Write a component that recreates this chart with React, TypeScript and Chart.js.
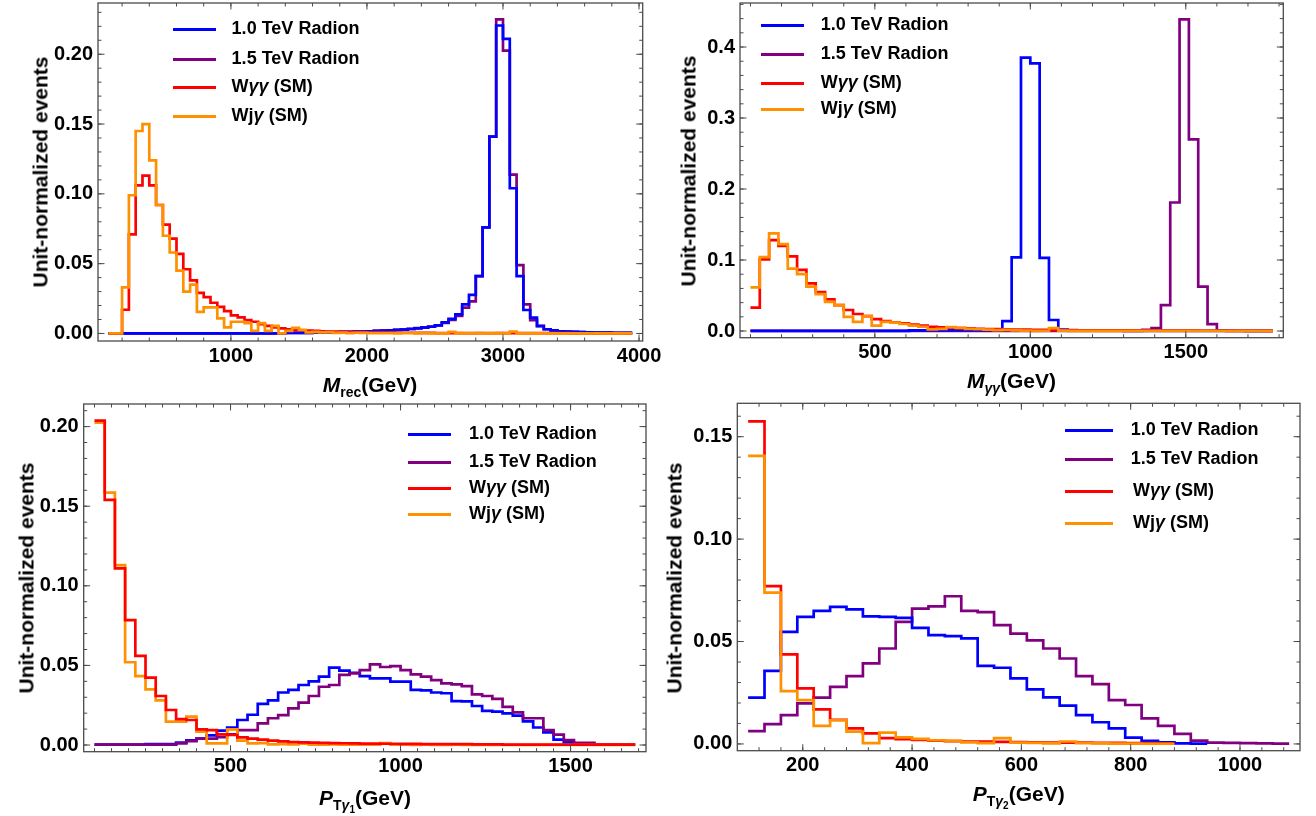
import React, { useEffect, useRef } from 'react';
import { Chart, registerables } from 'chart.js';

Chart.register(...registerables);

const PAGE_W = 1316;
const PAGE_H = 816;
const FONT = '"Liberation Sans", Arial, Helvetica, sans-serif';

const seriesLabels = ['1.0 TeV Radion', '1.5 TeV Radion', 'Wγγ (SM)', 'Wjγ (SM)'];
const seriesColors = ['#0000ff', '#800080', '#ff0000', '#ff9000'];

// ---------- Panel 1: M_rec (bins of 50 GeV from 100) ----------
const mrecBinStart = 100;
const mrecBinWidth = 50;
const mrecRadion10 = [
  0, 0, 0, 0, 0, 0, 0, 0, 0, 0, 0, 0, 0, 0, 0, 0, 0, 0, 0, 0, 0, 0, 0, 0, 0, 0,
  0.0004, 0.0004, 0.0004, 0.0004, 0.0007, 0.0008, 0.0009, 0.001, 0.0011, 0.0012, 0.0013, 0.0014,
  0.0016, 0.0018, 0.002, 0.0022, 0.0025, 0.0028, 0.0032, 0.0036, 0.0042, 0.0048,
  0.0058, 0.008, 0.0105, 0.0137, 0.0209, 0.0276, 0.041, 0.076, 0.141, 0.2206, 0.211, 0.104,
  0.041, 0.0168, 0.0113, 0.0053, 0.003, 0.0022, 0.0016, 0.0013, 0.0011, 0.0009, 0.0008, 0.0007,
  0.0006, 0.0006, 0.0005, 0.0005, 0.0004,
];
const mrecRadion15 = [
  0, 0, 0, 0, 0, 0, 0, 0, 0, 0, 0, 0, 0, 0, 0, 0, 0, 0, 0, 0, 0, 0, 0, 0, 0, 0,
  0.0004, 0.0004, 0.0004, 0.0004, 0.0007, 0.0008, 0.0009, 0.001, 0.0011, 0.0012, 0.0013, 0.0014,
  0.0016, 0.0018, 0.002, 0.0022, 0.0025, 0.0029, 0.0033, 0.0038, 0.0044, 0.005,
  0.0058, 0.0075, 0.0098, 0.0125, 0.0185, 0.023, 0.041, 0.076, 0.141, 0.225, 0.2026, 0.1137,
  0.049, 0.0209, 0.0096, 0.0055, 0.003, 0.0022, 0.0016, 0.0013, 0.0011, 0.0009, 0.0008, 0.0007,
  0.0006, 0.0006, 0.0005, 0.0005, 0.0004,
];
const mrecWaa = [
  0, 0, 0.017, 0.071, 0.106, 0.113, 0.106, 0.092, 0.078, 0.068, 0.057, 0.046, 0.038, 0.029,
  0.026, 0.022, 0.019, 0.016, 0.013, 0.0115, 0.0096, 0.0084, 0.0067, 0.0055, 0.0043, 0.0036,
  0.003, 0.0026, 0.0023, 0.002, 0.0018, 0.0016, 0.0014, 0.0012, 0.0011, 0.001, 0.0009, 0.0008,
  0.0007, 0.0007, 0.0006, 0.0006, 0.0005, 0.0005, 0.0005, 0.0004, 0.0004, 0.0004,
  0.0003, 0.0003, 0.0003, 0.0003, 0.0003, 0.0003, 0.0003, 0.0003, 0.0003, 0.0003,
  0.0002, 0.0002, 0.0002, 0.0002, 0.0002, 0.0002, 0.0002, 0.0002, 0.0002, 0.0002,
  0.0001, 0.0001, 0.0001, 0.0001, 0.0001, 0.0001, 0.0001, 0.0001, 0.0001,
];
const mrecWja = [
  0, 0, 0.033, 0.099, 0.145, 0.15, 0.124, 0.092, 0.07, 0.058, 0.045, 0.03, 0.035, 0.0155,
  0.0187, 0.0187, 0.0108, 0.0043, 0.0084, 0.0084, 0.0074, 0.0019, 0.0074, 0.0019, 0.0055, 0,
  0.0019, 0.004, 0.0025, 0.0008, 0.0012, 0.0008, 0.001, 0.0004, 0.0006, 0.0003, 0.0005, 0.0004,
  0.0002, 0.0003, 0.0002, 0.0003, 0.0001, 0.0002, 0.0002, 0.0001, 0.0002, 0.0001, 0.0001, 0.0001,
  0.0012, 0.0002, 0.0001, 0.0001, 0.0002, 0.0001, 0.0001, 0.0002, 0.0001, 0.0013,
  0.0001, 0.0001, 0.0001, 0.0001, 0.0001, 0.0001, 0.0001, 0.0001, 0.0001, 0.0001,
  0.0001, 0.0001, 0.0001, 0.0001, 0.0001, 0.0001, 0.0001,
];
const mrecXTicks = [1000, 2000, 3000, 4000];
const mrecYTicks = [0, 0.05, 0.1, 0.15, 0.2];

// ---------- Panel 2: M_gammagamma (bins of 30 GeV from 100) ----------
const mggBinStart = 100;
const mggBinWidth = 30;
const mggRadion10 = [
  0.0002, 0.0002, 0.0002, 0.0002, 0.0002, 0.0002, 0.0002, 0.0002, 0.0002, 0.0002, 0.0002, 0.0002,
  0.0002, 0.0002, 0.0002, 0.0002, 0.0002,
  0.0008, 0.001, 0.0012, 0.001, 0.0012, 0.0014, 0.0012, 0.0013, 0.0015, 0.0015,
  0.014, 0.1036, 0.385, 0.377, 0.103, 0.0155, 0.002, 0.001,
  0.0006, 0.0005, 0.0005, 0.0004, 0.0004, 0.0003, 0.0003, 0.0003,
  0.0002, 0.0002, 0.0002, 0.0002, 0.0002, 0.0002, 0.0002, 0.0002, 0.0002, 0.0002, 0.0002, 0.0002, 0.0002,
];
const mggRadion15 = [
  0.0002, 0.0002, 0.0002, 0.0002, 0.0002, 0.0002, 0.0002, 0.0002, 0.0002, 0.0002,
  0.0002, 0.0002, 0.0002, 0.0002, 0.0002, 0.0002, 0.0002, 0.0002, 0.0002, 0.0002,
  0.0002, 0.0002, 0.0002, 0.0002, 0.0002, 0.0002, 0.0002, 0.0002, 0.0002, 0.0002,
  0.0003, 0.0003, 0.0003, 0.0003, 0.0003, 0.0003, 0.0003, 0.0003, 0.0003, 0.0003, 0.0003, 0.0003,
  0.0015, 0.004, 0.0366, 0.181, 0.439, 0.27, 0.0624, 0.0098, 0.001, 0.0006, 0.0004, 0.0003, 0.0002, 0.0002,
];
const mggWaa = [
  0.033, 0.101, 0.128, 0.12, 0.105, 0.086, 0.067, 0.055, 0.0446, 0.0366, 0.0296, 0.024, 0.021,
  0.0169, 0.014, 0.0122, 0.0108, 0.0089, 0.0075, 0.006, 0.0052, 0.0046, 0.004, 0.0036, 0.0032,
  0.0028, 0.0026, 0.0023, 0.0021, 0.0019, 0.0017, 0.0016, 0.0014, 0.0013, 0.0012, 0.0011, 0.001,
  0.0009, 0.0009, 0.0008, 0.0008, 0.0007, 0.0007, 0.0006, 0.0006, 0.0005, 0.0005, 0.0005, 0.0004,
  0.0004, 0.0004, 0.0003, 0.0003, 0.0003, 0.0003, 0.0002,
];
const mggWja = [
  0.0615, 0.104, 0.1375, 0.1225, 0.088, 0.08, 0.0624, 0.052, 0.041, 0.0366, 0.02, 0.013, 0.021,
  0.0075, 0.013, 0.0117, 0.0099, 0.0075, 0.006, 0.0023, 0.003, 0.0055, 0.0045, 0.003, 0.0025,
  0.002, 0.0012, 0.0015, 0.0008, 0.0005, 0.0002, 0.0004, 0.004, 0.0005,
  0.0003, 0.0002, 0.0003, 0.0002, 0.0002, 0.0003, 0.0002, 0.0002, 0.0002, 0.0002, 0.0002,
  0.0002, 0.0002, 0.0002, 0.0002, 0.0002, 0.0002, 0.0002, 0.0002, 0.0002, 0.0002, 0.0002,
];
const mggXTicks = [500, 1000, 1500];
const mggYTicks = [0, 0.1, 0.2, 0.3, 0.4];

// ---------- Panel 3: P_T gamma1 (bins of 30 GeV from 100) ----------
const pt1BinStart = 100;
const pt1BinWidth = 30;
const pt1Radion10 = [
  0.0002, 0.0002, 0.0002, 0.0002, 0.0002, 0.0005, 0.0005, 0.0005,
  0.0015, 0.003, 0.004, 0.006, 0.009, 0.011, 0.0157, 0.019, 0.0258, 0.028,
  0.033, 0.0346, 0.0377, 0.04, 0.043, 0.0486, 0.0467, 0.0454, 0.0433, 0.0419,
  0.0419, 0.0398, 0.0398, 0.0346, 0.0343, 0.033, 0.0325, 0.0276, 0.0274, 0.0245,
  0.0214, 0.021, 0.0199, 0.0184, 0.0149, 0.011, 0.008, 0.0034, 0.0017, 0.001,
  0.0007, 0.0004, 0.0003, 0.0002, 0.0002,
];
const pt1Radion15 = [
  0.0002, 0.0002, 0.0002, 0.0002, 0.0002, 0.0002, 0.0002, 0.0002,
  0.001, 0.0025, 0.004, 0.004, 0.005, 0.0067, 0.0094, 0.0094, 0.0136, 0.0168,
  0.0188, 0.023, 0.0266, 0.0308, 0.0366, 0.0377, 0.044, 0.045, 0.047, 0.0507,
  0.049, 0.0496, 0.047, 0.0444, 0.043, 0.0408, 0.0387, 0.0381, 0.037, 0.0318,
  0.0308, 0.029, 0.024, 0.0205, 0.0168, 0.0168, 0.0094, 0.0065, 0.0031, 0.0013,
  0.0013, 0.0004, 0.0003, 0.0002, 0.0002,
];
const pt1Waa = [
  0.2038, 0.154, 0.111, 0.0785, 0.056, 0.0423, 0.0308, 0.022, 0.0163, 0.0157,
  0.0098, 0.0094, 0.0067, 0.0063, 0.0048, 0.004, 0.0034, 0.0027, 0.0023, 0.0019,
  0.0017, 0.0015, 0.0014, 0.0012, 0.0011, 0.001, 0.0009, 0.0009, 0.0008, 0.0008,
  0.0007, 0.0007, 0.0006, 0.0006, 0.0005, 0.0005, 0.0005, 0.0004, 0.0004, 0.0004,
  0.0003, 0.0003, 0.0003, 0.0003, 0.0003, 0.0002, 0.0002, 0.0002, 0.0002, 0.0002,
  0.0002, 0.0002, 0.0002,
];
const pt1Wja = [
  0.2025, 0.1585, 0.113, 0.052, 0.0433, 0.035, 0.028, 0.0147, 0.0147, 0.0178,
  0.0084, 0.001, 0.001, 0.0098, 0.0027, 0.001, 0.0012, 0.0004, 0.0006, 0.0004,
  0.0008, 0.0003, 0.0003, 0.0004, 0.0002, 0.0003, 0.0002, 0.0002, 0.0012, 0.0002,
  0.0002, 0.0001, 0.0002, 0.0001, 0.0001, 0.0002, 0.0001, 0.0001, 0.0001, 0.0001,
  0.0001, 0.0001, 0.0001, 0.0001, 0.0001, 0.0001, 0.0001, 0.0001, 0.0001, 0.0001,
  0.0001, 0.0001, 0.0001,
];
const pt1XTicks = [500, 1000, 1500];
const pt1YTicks = [0, 0.05, 0.1, 0.15, 0.2];

// ---------- Panel 4: P_T gamma2 (bins of 30 GeV from 100) ----------
const pt2BinStart = 100;
const pt2BinWidth = 30;
const pt2Radion10 = [
  0.0226, 0.0357, 0.0547, 0.062, 0.065, 0.0669, 0.0657, 0.0623, 0.062, 0.0615,
  0.0567, 0.0531, 0.0526, 0.0515, 0.0381, 0.0372, 0.032, 0.0266, 0.0227, 0.0187,
  0.0141, 0.0106, 0.0076, 0.0031, 0.0015, 0.0008, 0.0003, 0.0002,
];
const pt2Radion15 = [
  0.0063, 0.0097, 0.0141, 0.0198, 0.0226, 0.0279, 0.0331, 0.0393, 0.0466, 0.0596,
  0.0661, 0.0672, 0.0721, 0.065, 0.0644, 0.058, 0.0539, 0.0506, 0.0466, 0.0417,
  0.0331, 0.0292, 0.0214, 0.019, 0.0125, 0.0088, 0.0049, 0.0016, 0.0006, 0.0005,
  0.0004, 0.0003, 0.0002,
];
const pt2Waa = [
  0.1575, 0.077, 0.0437, 0.0271, 0.0169, 0.0118, 0.0076, 0.0052, 0.0028, 0.0023,
  0.002, 0.0016, 0.0014, 0.0012, 0.0011, 0.001, 0.0009, 0.0008, 0.0007, 0.0006,
  0.0006, 0.0005, 0.0005, 0.0004, 0.0004, 0.0003,
];
const pt2Wja = [
  0.1406, 0.0739, 0.0258, 0.0214, 0.0088, 0.0115, 0.006, 0.0004, 0.0055, 0.0032,
  0.0025, 0.0018, 0.0015, 0.0008, 0.0004, 0.0028, 0.0006, 0.0005, 0.0003, 0.0012,
  0.0004, 0.0003, 0.0002, 0.0002, 0.0001, 0.0001,
];
const pt2XTicks = [200, 400, 600, 800, 1000];
const pt2YTicks = [0, 0.05, 0.1, 0.15];

function range(start: number, end: number, step: number) {
  const out: number[] = [];
  for (let v = start; v <= end + step * 1e-6; v += step) out.push(Math.round(v * 1e6) / 1e6);
  return out;
}

function histSteps(start: number, width: number, values: number[]) {
  const pts = values.map((v, i) => ({ x: start + i * width, y: v }));
  pts.push({ x: start + values.length * width, y: values[values.length - 1] });
  return pts;
}

type Panel = {
  frame: { left: number; right: number; top: number; bottom: number };
  xMin: number; xMax: number; yMin: number; yMax: number;
  binStart: number; binWidth: number;
  series: number[][];
  order: number[];
  xTicks: number[]; yTicks: number[]; xMinor: number[]; yMinor: number[];
  yDecimals: number;
  legend: { rows: number[]; lineX0: number; lineX1: number; textX: number[] };
  xTitle: React.ReactNode; xTitlePos: [number, number];
  yTitlePos: [number, number];
};

const panels: Panel[] = [
  {
    frame: { left: 98, right: 642.7, top: 3, bottom: 341 },
    xMin: 23, xMax: 4027, yMin: -0.0054, yMax: 0.2367,
    binStart: mrecBinStart, binWidth: mrecBinWidth,
    series: [mrecRadion10, mrecRadion15, mrecWaa, mrecWja],
    order: [2, 3, 1, 0],
    xTicks: mrecXTicks, yTicks: mrecYTicks,
    xMinor: range(200, 4000, 200), yMinor: range(0, 0.23, 0.01),
    yDecimals: 2,
    legend: { rows: [28.3, 57.7, 86, 115], lineX0: 172.6, lineX1: 215.8, textX: [231.6, 231.6, 231.6, 231.6] },
    xTitle: (<><i>M</i><span style={{ fontSize: 14, position: 'relative', top: 5 }}>rec</span>(GeV)</>),
    xTitlePos: [370, 385.5],
    yTitlePos: [40, 172],
  },
  {
    frame: { left: 740, right: 1283.3, top: 3, bottom: 337.7 },
    xMin: 66.4, xMax: 1813.6, yMin: -0.0094, yMax: 0.462,
    binStart: mggBinStart, binWidth: mggBinWidth,
    series: [mggRadion10, mggRadion15, mggWaa, mggWja],
    order: [2, 3, 1, 0],
    xTicks: mggXTicks, yTicks: mggYTicks,
    xMinor: range(100, 1800, 100), yMinor: range(0, 0.46, 0.02),
    yDecimals: 1,
    legend: { rows: [24.3, 53.3, 81.7, 108.3], lineX0: 761, lineX1: 804, textX: [820.7, 820.7, 820.7, 820.7] },
    xTitle: (<><i>M</i><span style={{ fontSize: 14, position: 'relative', top: 5 }}><i>γγ</i></span>(GeV)</>),
    xTitlePos: [1011.5, 382],
    yTitlePos: [688, 171],
  },
  {
    frame: { left: 83.7, right: 646, top: 404, bottom: 751.7 },
    xMin: 68.2, xMax: 1721.8, yMin: -0.0042, yMax: 0.2142,
    binStart: pt1BinStart, binWidth: pt1BinWidth,
    series: [pt1Radion10, pt1Radion15, pt1Waa, pt1Wja],
    order: [3, 2, 0, 1],
    xTicks: pt1XTicks, yTicks: pt1YTicks,
    xMinor: range(100, 1700, 50), yMinor: range(0, 0.21, 0.01),
    yDecimals: 2,
    legend: { rows: [433.3, 460.7, 487.3, 513.3], lineX0: 407.9, lineX1: 450.7, textX: [469, 469, 469, 469] },
    xTitle: (<><i>P</i><span style={{ fontSize: 14, position: 'relative', top: 5 }}>T<i>γ</i><span style={{ fontSize: 10, position: 'relative', top: 3 }}>1</span></span>(GeV)</>),
    xTitlePos: [365, 798.5],
    yTitlePos: [26, 578],
  },
  {
    frame: { left: 737.3, right: 1300, top: 403.3, bottom: 750.7 },
    xMin: 80.2, xMax: 1109.8, yMin: -0.0033, yMax: 0.1663,
    binStart: pt2BinStart, binWidth: pt2BinWidth,
    series: [pt2Radion10, pt2Radion15, pt2Waa, pt2Wja],
    order: [2, 3, 1, 0],
    xTicks: pt2XTicks, yTicks: pt2YTicks,
    xMinor: range(120, 1080, 40), yMinor: range(0, 0.16, 0.01),
    yDecimals: 2,
    legend: { rows: [429.3, 458.3, 490, 521.7], lineX0: 1065, lineX1: 1112.7, textX: [1130.7, 1130.7, 1133, 1133] },
    xTitle: (<><i>P</i><span style={{ fontSize: 14, position: 'relative', top: 5 }}>T<i>γ</i><span style={{ fontSize: 10, position: 'relative', top: 3 }}>2</span></span>(GeV)</>),
    xTitlePos: [1018.7, 795],
    yTitlePos: [674, 578],
  },
];

const Y_AXIS_W = 80;
const X_AXIS_H = 40;
const FRAME_COLOR = '#4a4a4a';

function makeFramePlugin(p: Panel) {
  return {
    id: 'mmaFrame',
    afterDraw(chart: any) {
      const { ctx, chartArea: a } = chart;
      const xs = chart.scales.x;
      const ys = chart.scales.y;
      ctx.save();
      ctx.strokeStyle = FRAME_COLOR;
      ctx.lineWidth = 1.3;
      ctx.strokeRect(a.left, a.top, a.right - a.left, a.bottom - a.top);
      ctx.lineWidth = 1;
      ctx.beginPath();
      const tickX = (v: number, len: number) => {
        const px = xs.getPixelForValue(v);
        if (px < a.left + 1 || px > a.right - 1) return;
        ctx.moveTo(px, a.bottom);
        ctx.lineTo(px, a.bottom - len);
        ctx.moveTo(px, a.top);
        ctx.lineTo(px, a.top + len);
      };
      const tickY = (v: number, len: number) => {
        const py = ys.getPixelForValue(v);
        if (py < a.top + 1 || py > a.bottom - 1) return;
        ctx.moveTo(a.left, py);
        ctx.lineTo(a.left + len, py);
        ctx.moveTo(a.right, py);
        ctx.lineTo(a.right - len, py);
      };
      p.xMinor.forEach((v) => tickX(v, 3.5));
      p.xTicks.forEach((v) => tickX(v, 6.5));
      p.yMinor.forEach((v) => tickY(v, 3.5));
      p.yTicks.forEach((v) => tickY(v, 6.5));
      ctx.stroke();
      ctx.restore();
    },
  };
}

function makeChart(canvas: HTMLCanvasElement, p: Panel) {
  const tickFont = { family: FONT, size: 20, weight: 'bold' as const };
  return new Chart(canvas, {
    type: 'line',
    data: {
      datasets: p.series.map((s, i) => ({
        label: seriesLabels[i],
        data: histSteps(p.binStart, p.binWidth, s),
        borderColor: seriesColors[i],
        backgroundColor: seriesColors[i],
        borderWidth: 2.7,
        pointRadius: 0,
        pointHoverRadius: 0,
        stepped: 'before' as const,
        fill: false,
        tension: 0,
        order: p.order[i],
        borderJoinStyle: 'miter' as const,
        borderCapStyle: 'butt' as const,
      })),
    },
    options: {
      animation: false,
      responsive: false,
      maintainAspectRatio: false,
      events: [],
      layout: {
        padding: {
          left: p.frame.left - Y_AXIS_W,
          right: PAGE_W - p.frame.right,
          top: p.frame.top,
          bottom: PAGE_H - p.frame.bottom - X_AXIS_H,
        },
      },
      plugins: { legend: { display: false }, tooltip: { enabled: false } },
      scales: {
        x: {
          type: 'linear',
          min: p.xMin,
          max: p.xMax,
          grid: { display: false, drawTicks: false },
          border: { display: false },
          ticks: {
            autoSkip: false,
            maxRotation: 0,
            padding: 3,
            color: '#000',
            font: tickFont,
            callback: (v: any) => String(v),
          },
          afterBuildTicks: (ax: any) => {
            ax.ticks = p.xTicks.map((v) => ({ value: v }));
          },
          afterFit: (ax: any) => {
            ax.height = X_AXIS_H;
            ax.paddingLeft = 0;
            ax.paddingRight = 0;
          },
        },
        y: {
          type: 'linear',
          min: p.yMin,
          max: p.yMax,
          grid: { display: false, drawTicks: false },
          border: { display: false },
          ticks: {
            autoSkip: false,
            padding: 5,
            color: '#000',
            font: tickFont,
            callback: (v: any) => Number(v).toFixed(p.yDecimals),
          },
          afterBuildTicks: (ax: any) => {
            ax.ticks = p.yTicks.map((v) => ({ value: v }));
          },
          afterFit: (ax: any) => {
            ax.width = Y_AXIS_W;
            ax.paddingTop = 0;
            ax.paddingBottom = 0;
          },
        },
      },
    } as any,
    plugins: [makeFramePlugin(p)],
  });
}

function renderLabel(label: string) {
  return label.split('').map((ch, i) => (ch === 'γ' ? <i key={i}>γ</i> : <React.Fragment key={i}>{ch}</React.Fragment>));
}

function LegendBlock({ p }: { p: Panel }) {
  const lg = p.legend;
  return (
    <>
      {seriesLabels.map((label, i) => (
        <React.Fragment key={i}>
          <div
            style={{
              position: 'absolute',
              left: lg.lineX0,
              top: lg.rows[i] + 1.5 - 1.5,
              width: lg.lineX1 - lg.lineX0,
              height: 3,
              background: seriesColors[i],
            }}
          />
          <div
            style={{
              position: 'absolute',
              left: lg.textX[i],
              top: lg.rows[i] - 9,
              fontSize: 18,
              lineHeight: '18px',
              fontWeight: 700,
              fontFamily: FONT,
              whiteSpace: 'nowrap',
              color: '#000',
            }}
          >
            {renderLabel(label)}
          </div>
        </React.Fragment>
      ))}
    </>
  );
}

export default function App() {
  const refs = [useRef<HTMLCanvasElement>(null), useRef<HTMLCanvasElement>(null), useRef<HTMLCanvasElement>(null), useRef<HTMLCanvasElement>(null)];

  useEffect(() => {
    const charts = panels.map((p, i) => makeChart(refs[i].current as HTMLCanvasElement, p));
    return () => charts.forEach((c) => c.destroy());
  }, []);

  return (
    <div
      style={{
        position: 'absolute',
        left: 0,
        top: 0,
        width: PAGE_W,
        height: PAGE_H,
        background: '#fff',
        overflow: 'hidden',
        fontFamily: FONT,
      }}
    >
      {panels.map((p, i) => (
        <canvas
          key={'c' + i}
          ref={refs[i]}
          width={PAGE_W}
          height={PAGE_H}
          style={{ position: 'absolute', left: 0, top: 0, width: PAGE_W, height: PAGE_H }}
        />
      ))}
      {panels.map((p, i) => (
        <React.Fragment key={'o' + i}>
          <LegendBlock p={p} />
          <div
            style={{
              position: 'absolute',
              left: p.xTitlePos[0],
              top: p.xTitlePos[1],
              transform: 'translate(-50%, -50%)',
              fontSize: 21,
              lineHeight: '21px',
              fontWeight: 700,
              whiteSpace: 'nowrap',
              color: '#000',
            }}
          >
            {p.xTitle}
          </div>
          <div
            style={{
              position: 'absolute',
              left: p.yTitlePos[0],
              top: p.yTitlePos[1],
              transform: 'translate(-50%, -50%) rotate(-90deg)',
              fontSize: 21,
              lineHeight: '21px',
              fontWeight: 700,
              whiteSpace: 'nowrap',
              color: '#000',
            }}
          >
            Unit-normalized events
          </div>
        </React.Fragment>
      ))}
    </div>
  );
}
